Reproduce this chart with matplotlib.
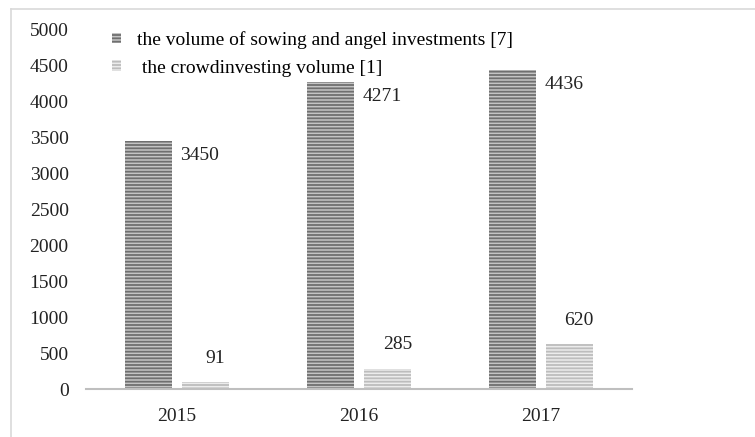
import matplotlib.pyplot as plt
import numpy as np
from matplotlib.patches import Patch
from matplotlib.lines import Line2D

years = ['2015', '2016', '2017']
angel = [3450, 4271, 4436]
crowd = [91, 285, 620]
series_names = ['the volume of sowing and angel investments [7]',
                ' the crowdinvesting volume [1]']

plt.rcParams['font.family'] = ['Liberation Serif', 'DejaVu Serif']
plt.rcParams['hatch.linewidth'] = 1.3

fig = plt.figure(figsize=(7.55, 4.37), dpi=100)
ax = fig.add_axes([86 / 755, 1 - 389 / 437, 546 / 755, 359 / 437])

x = np.arange(len(years))
w = 0.26
off = 0.157
b1 = ax.bar(x - off, angel, w, color='#c4c4c4', edgecolor='#6f6f6f',
            linewidth=0, hatch='-----')
b2 = ax.bar(x + off, crowd, w, color='#ececec', edgecolor='#bdbdbd',
            linewidth=0, hatch='-----')

txt = '#222222'
for bar, v in zip(b1, angel):
    ax.annotate(str(v), (bar.get_x() + bar.get_width(), v),
                xytext=(6, -10), textcoords='offset points',
                ha='left', va='center', fontsize=14, color=txt)
for bar, v in zip(b2, crowd):
    ax.annotate(str(v), (bar.get_x() + bar.get_width() / 2, v),
                xytext=(7, 17), textcoords='offset points',
                ha='center', va='center', fontsize=14, color=txt)

ax.set_xlim(-0.5, 2.5)
ax.set_ylim(0, 5000)
ax.set_yticks(np.arange(0, 5001, 500))
ax.set_xticks(x)
ax.set_xticklabels(years)
ax.tick_params(axis='both', length=0, labelsize=14, colors=txt)
ax.tick_params(axis='y', pad=12.5)
ax.tick_params(axis='x', pad=14)
for s in ['top', 'right', 'left']:
    ax.spines[s].set_visible(False)
ax.spines['bottom'].set_color('#bfbfbf')
ax.spines['bottom'].set_linewidth(1.5)

handles = [Patch(facecolor='#c4c4c4', edgecolor='#6f6f6f', linewidth=0, hatch='-----'),
           Patch(facecolor='#ececec', edgecolor='#bdbdbd', linewidth=0, hatch='-----')]
ax.legend(handles, series_names, loc='upper left',
          bbox_to_anchor=(112 / 755, 1 - 31 / 437), bbox_transform=fig.transFigure,
          frameon=False, fontsize=14, handlelength=0.45, handleheight=0.45,
          handletextpad=0.85, labelspacing=0.55, borderpad=0, borderaxespad=0)

# light frame around the chart area
fig.add_artist(Line2D([11 / 755, 1], [1 - 9 / 437, 1 - 9 / 437], color='#d9d9d9', lw=1.2))
fig.add_artist(Line2D([11 / 755, 11 / 755], [0, 1 - 9 / 437], color='#d9d9d9', lw=1.2))

fig.savefig('out.png', dpi=100)
